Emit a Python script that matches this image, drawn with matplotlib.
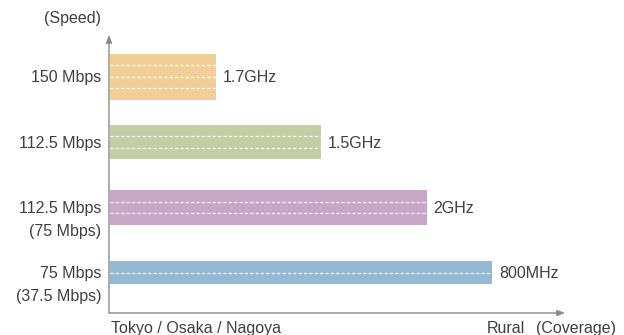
import matplotlib.pyplot as plt
import matplotlib.transforms as mtransforms

plt.rcParams['font.family'] = ['Liberation Sans', 'DejaVu Sans']

# bands from wide coverage (bottom) to narrow coverage (top)
bands = ["800MHz", "2GHz", "1.5GHz", "1.7GHz"]
coverage = [3.62, 3.0, 2.0, 1.0]
speed = [75, 112.5, 112.5, 150]
speed_labels = ["75 Mbps", "112.5 Mbps", "112.5 Mbps", "150 Mbps"]
sub_labels = ["(37.5 Mbps)", "(75 Mbps)", "", ""]
colors = ["#95b8d5", "#c8a6c8", "#c4cea4", "#f0ce95"]

UNIT = 37.5          # one lane per 37.5 Mbps
LANE_H = 0.176       # bar height per lane, in row units
FS = 11.5
TEXT = "#3f3f3f"
AXIS = "#8a8a8a"

fig = plt.figure(figsize=(6.24, 3.35), dpi=100)
ax = fig.add_axes([109 / 624, 22 / 335, 456 / 624, 278 / 335])
ax.set_xlim(0, 4.32)
ax.set_ylim(-0.62, 3.64)
ax.axis('off')

for i, (cov, spd, col) in enumerate(zip(coverage, speed, colors)):
    lanes = int(round(spd / UNIT))
    h = lanes * LANE_H
    ax.barh(i, cov, height=h, left=0.01, color=col, edgecolor='none')
    # white dashed separators between lanes
    for k in range(1, lanes):
        y = i - h / 2 + k * LANE_H
        ax.plot([0.01, cov + 0.01], [y, y], color='white', lw=0.9,
                dashes=(2.5, 1.8))

    # band name to the right of the bar
    off = mtransforms.offset_copy(ax.transData, fig=fig, x=7, y=-1, units='dots')
    ax.text(cov + 0.01, i, bands[i], transform=off, ha='left', va='center',
            fontsize=FS, color=TEXT)

    # speed labels left of the axis
    trans = mtransforms.blended_transform_factory(ax.transAxes, ax.transData)
    lab = mtransforms.offset_copy(trans, fig=fig, x=-8, y=-1, units='dots')
    ax.text(0, i, speed_labels[i], transform=lab, ha='right', va='center',
            fontsize=FS, color=TEXT)
    if sub_labels[i]:
        lab2 = mtransforms.offset_copy(trans, fig=fig, x=-8, y=-24, units='dots')
        ax.text(0, i, sub_labels[i], transform=lab2, ha='right', va='center',
                fontsize=FS, color=TEXT)

# axes with arrow heads
arrow = dict(arrowstyle='-|>,head_length=0.45,head_width=0.18', color=AXIS, lw=1.0,
             shrinkA=0, shrinkB=0)
ax.annotate('', xy=(0, 1.0), xytext=(0, 0), xycoords='axes fraction',
            arrowprops=arrow)
ax.annotate('', xy=(1.0, 0), xytext=(0, 0), xycoords='axes fraction',
            arrowprops=arrow)

fig.text(101 / 624, 1 - 18 / 335, "(Speed)", ha='right', va='center',
         fontsize=FS, color=TEXT)
base_y = 1 - 333 / 335
fig.text(111 / 624, base_y, "Tokyo / Osaka / Nagoya", ha='left',
         va='baseline', fontsize=FS, color=TEXT)
fig.text(487 / 624, base_y, "Rural", ha='left', va='baseline',
         fontsize=FS, color=TEXT)
fig.text(616 / 624, base_y, "(Coverage)", ha='right', va='baseline',
         fontsize=FS, color=TEXT)

fig.savefig("out.png", dpi=100)
